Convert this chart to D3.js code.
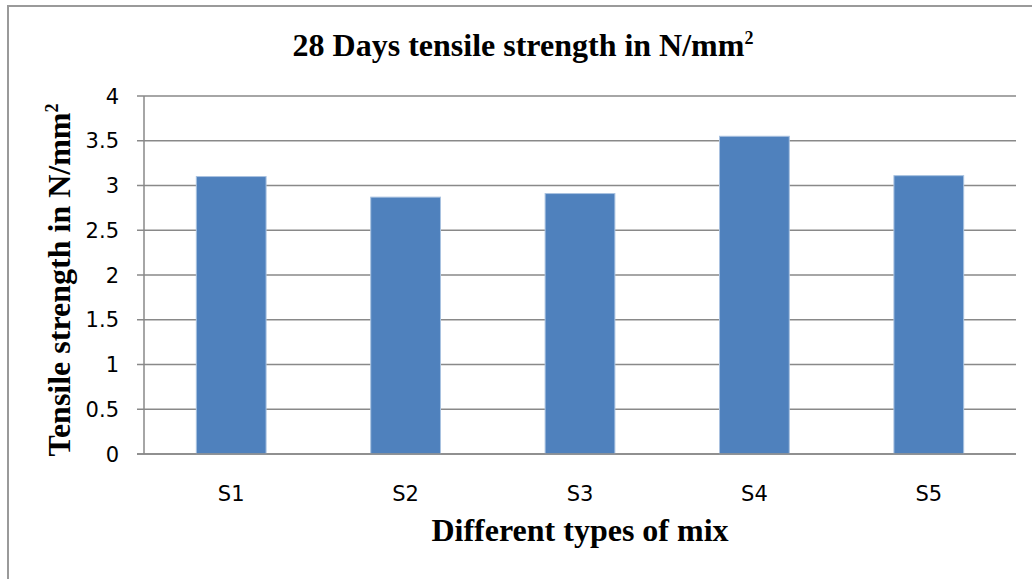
<!DOCTYPE html>
<html>
<head>
<meta charset="utf-8">
<script src="https://cdn.jsdelivr.net/npm/d3@7"></script>
<style>
  html, body { margin: 0; padding: 0; background: #fff; }
  svg { display: block; }
</style>
</head>
<body>
<svg id="chart" width="1032" height="579"></svg>
<script>
// Mix designations and their 28-day tensile strength (N/mm²)
const mixes = ["S1", "S2", "S3", "S4", "S5"];
const strength = [3.10, 2.87, 2.91, 3.55, 3.11];
const yTicks = [0, 0.5, 1, 1.5, 2, 2.5, 3, 3.5, 4];

const svg = d3.select("#chart");
const W = 1032, H = 579;
const plot = { left: 144, right: 1016, top: 96, bottom: 454 };

// chart frame (top and left edges)
svg.append("path")
  .attr("d", `M8,${H} L8,6 L${W},6`)
  .attr("fill", "none")
  .attr("stroke", "#9a9a9a")
  .attr("stroke-width", 2);

const x = d3.scaleBand()
  .domain(mixes)
  .range([plot.left, plot.right])
  .paddingInner(0.6)
  .paddingOuter(0.3);

const y = d3.scaleLinear()
  .domain([0, 4])
  .range([plot.bottom, plot.top]);

// horizontal gridlines
svg.append("g")
  .selectAll("line")
  .data(yTicks)
  .join("line")
  .attr("x1", plot.left - 7)
  .attr("x2", plot.right)
  .attr("y1", d => y(d))
  .attr("y2", d => y(d))
  .attr("stroke", "#898989")
  .attr("stroke-width", 1.5);

// y axis line
svg.append("line")
  .attr("x1", plot.left).attr("x2", plot.left)
  .attr("y1", plot.top).attr("y2", plot.bottom)
  .attr("stroke", "#898989")
  .attr("stroke-width", 1.5);

// bars
svg.append("g")
  .selectAll("rect")
  .data(mixes)
  .join("rect")
  .attr("x", d => x(d))
  .attr("width", x.bandwidth())
  .attr("y", (d, i) => y(strength[i]))
  .attr("height", (d, i) => y(0) - y(strength[i]))
  .attr("fill", "#4f81bd")
  .attr("stroke", "#a9c2e0")
  .attr("stroke-width", 1);

// x axis baseline drawn over bar bottoms
svg.append("line")
  .attr("x1", plot.left - 7).attr("x2", plot.right)
  .attr("y1", plot.bottom).attr("y2", plot.bottom)
  .attr("stroke", "#898989")
  .attr("stroke-width", 1.5);

const sans = "'DejaVu Sans', 'Open Sans', sans-serif";

// y tick labels
svg.append("g")
  .selectAll("text")
  .data(yTicks)
  .join("text")
  .attr("x", 119)
  .attr("y", d => y(d))
  .attr("dy", "0.36em")
  .attr("text-anchor", "end")
  .attr("font-family", sans)
  .attr("font-size", 21)
  .attr("fill", "#000")
  .text(d => d);

// x tick labels
svg.append("g")
  .selectAll("text")
  .data(mixes)
  .join("text")
  .attr("x", d => x(d) + x.bandwidth() / 2)
  .attr("y", 493)
  .attr("dy", "0.36em")
  .attr("text-anchor", "middle")
  .attr("font-family", sans)
  .attr("font-size", 21)
  .attr("fill", "#000")
  .text(d => d);

const serif = "'Liberation Serif', 'Times New Roman', serif";

// title
const title = svg.append("text")
  .attr("x", 523)
  .attr("y", 56)
  .attr("text-anchor", "middle")
  .attr("font-family", serif)
  .attr("font-weight", "bold")
  .attr("font-size", 32)
  .attr("fill", "#000");
title.append("tspan").text("28 Days tensile strength in N/mm");
title.append("tspan").attr("font-size", 18).attr("dy", -12).text("2");

// x axis title
svg.append("text")
  .attr("x", 580)
  .attr("y", 541)
  .attr("text-anchor", "middle")
  .attr("font-family", serif)
  .attr("font-weight", "bold")
  .attr("font-size", 32)
  .attr("fill", "#000")
  .text("Different types of mix");

// y axis title
const yTitle = svg.append("text")
  .attr("transform", "translate(70,280) rotate(-90)")
  .attr("text-anchor", "middle")
  .attr("font-family", serif)
  .attr("font-weight", "bold")
  .attr("font-size", 32)
  .attr("fill", "#000");
yTitle.append("tspan").text("Tensile strength in N/mm");
yTitle.append("tspan").attr("font-size", 18).attr("dy", -12).text("2");
</script>
</body>
</html>
